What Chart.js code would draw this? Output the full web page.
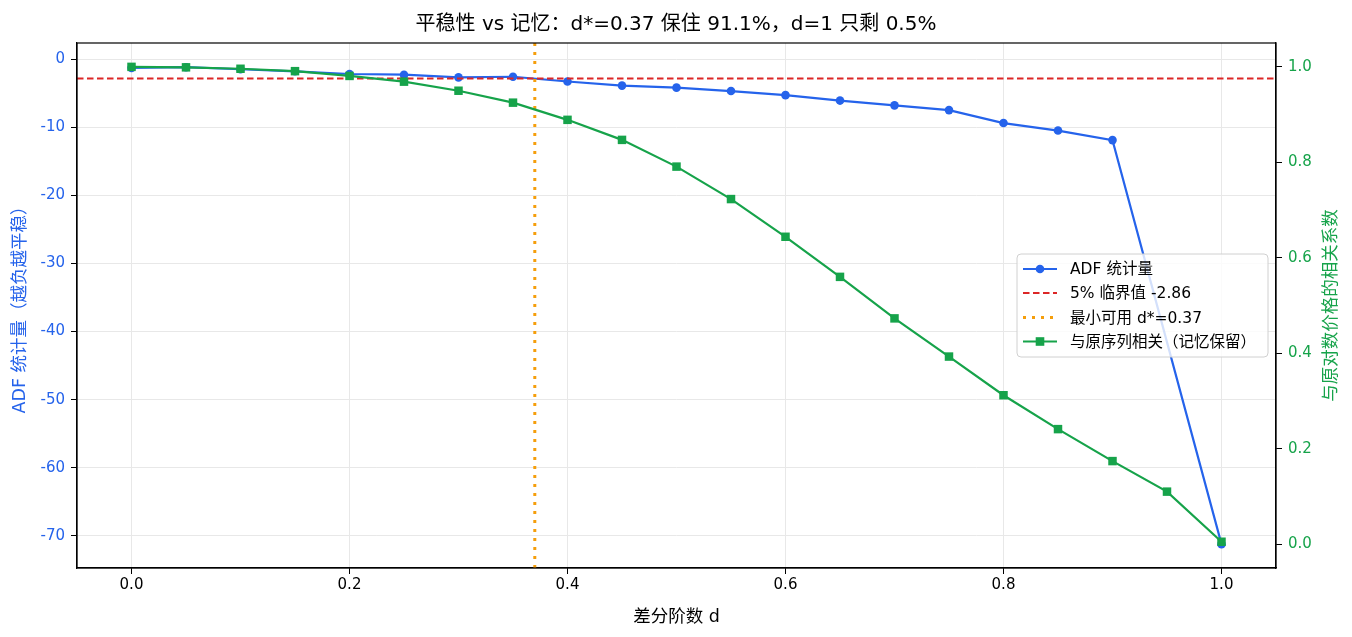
<!DOCTYPE html>
<html>
<head>
<meta charset="utf-8">
<script src="https://cdn.jsdelivr.net/npm/chart.js@4.4.1/dist/chart.umd.min.js"></script>
<style>
  html, body { margin: 0; padding: 0; background: #fff; }
  #wrap { width: 1352px; height: 637px; }
</style>
</head>
<body>
<div id="wrap"><canvas id="chart" width="1352" height="637"></canvas></div>
<script>
// Data
const dValues = [0, 0.05, 0.1, 0.15, 0.2, 0.25, 0.3, 0.35, 0.4, 0.45, 0.5, 0.55, 0.6, 0.65, 0.7, 0.75, 0.8, 0.85, 0.9, 0.95, 1.0];
const adfValues = [-1.3, -1.2, -1.5, -1.8, -2.2, -2.3, -2.7, -2.6, -3.3, -3.9, -4.2, -4.7, -5.3, -6.1, -6.8, -7.5, -9.4, -10.5, -11.9, null, -71.2];
const corrValues = [1.000, 0.999, 0.996, 0.991, 0.981, 0.969, 0.950, 0.925, 0.889, 0.847, 0.791, 0.723, 0.644, 0.560, 0.473, 0.393, 0.312, 0.241, 0.174, 0.110, 0.005];
const critValue = -2.86;
const dStar = 0.37;
const xTicks = [0, 0.2, 0.4, 0.6, 0.8, 1.0];
const adfTicks = [0, -10, -20, -30, -40, -50, -60, -70];
const corrTicks = [0, 0.2, 0.4, 0.6, 0.8, 1.0];
const xRange = [-0.05, 1.05];
const adfRange = [-74.7, 2.35];
const corrRange = [-0.05, 1.05];

const BLUE = '#2563eb';
const GREEN = '#16a34a';
const RED = '#dc2626';
const ORANGE = '#f59e0b';
const FONT = "'DejaVu Sans', 'Noto Sans CJK SC', sans-serif";

const legendItems = [
  { label: 'ADF 统计量', color: BLUE, dash: [], width: 2.2, marker: 'circle' },
  { label: '5% 临界值 -2.86', color: RED, dash: [6.5, 3.5], width: 2, marker: null },
  { label: '最小可用 d*=0.37', color: ORANGE, dash: [3, 6], width: 3, marker: null },
  { label: '与原序列相关（记忆保留）', color: GREEN, dash: [], width: 2.2, marker: 'rect' }
];

const ticksFrom = arr => scale => { scale.ticks = arr.map(v => ({ value: v })); };

// frame, right axis title and legend drawn on top like matplotlib does
const extras = {
  id: 'extras',
  afterDraw(chart) {
    const ctx = chart.ctx;
    const a = chart.chartArea;
    ctx.save();
    ctx.strokeStyle = '#000';
    ctx.lineWidth = 1.2;
    ctx.strokeRect(a.left, a.top, a.right - a.left, a.bottom - a.top);

    // right axis title, reading bottom to top
    ctx.save();
    ctx.translate(1331, (a.top + a.bottom) / 2);
    ctx.rotate(-Math.PI / 2);
    ctx.fillStyle = GREEN;
    ctx.font = '17.5px ' + FONT;
    ctx.textAlign = 'center';
    ctx.textBaseline = 'middle';
    ctx.fillText('与原对数价格的相关系数', 0, 0);
    ctx.restore();

    // legend
    const bx = 1017, by = 254, bw = 251, bh = 103;
    ctx.beginPath();
    ctx.roundRect(bx, by, bw, bh, 4);
    ctx.fillStyle = 'rgba(255,255,255,0.8)';
    ctx.fill();
    ctx.strokeStyle = '#d0d0d0';
    ctx.lineWidth = 1;
    ctx.stroke();
    const rows = [269, 293, 317.5, 341.5];
    legendItems.forEach((it, i) => {
      const y = rows[i];
      ctx.beginPath();
      ctx.setLineDash(it.dash);
      ctx.strokeStyle = it.color;
      ctx.lineWidth = it.width;
      ctx.moveTo(1023, y);
      ctx.lineTo(1057, y);
      ctx.stroke();
      ctx.setLineDash([]);
      ctx.fillStyle = it.color;
      if (it.marker === 'circle') {
        ctx.beginPath();
        ctx.arc(1040, y, 4.3, 0, Math.PI * 2);
        ctx.fill();
      } else if (it.marker === 'rect') {
        ctx.fillRect(1040 - 4.3, y - 4.3, 8.6, 8.6);
      }
      ctx.fillStyle = '#000';
      ctx.font = '15.5px ' + FONT;
      ctx.textAlign = 'left';
      ctx.textBaseline = 'middle';
      ctx.fillText(it.label, 1070, y + 1);
    });
    ctx.restore();
  }
};

new Chart(document.getElementById('chart'), {
  type: 'line',
  data: {
    datasets: [
      {
        label: '与原序列相关（记忆保留）',
        data: dValues.map((d, i) => ({ x: d, y: corrValues[i] })),
        yAxisID: 'y2',
        borderColor: GREEN,
        backgroundColor: GREEN,
        borderWidth: 2.2,
        pointStyle: 'rect',
        pointRadius: 6,
        pointBorderWidth: 0,
        order: 0
      },
      {
        label: '最小可用 d*=0.37',
        data: [{ x: dStar, y: adfRange[0] }, { x: dStar, y: adfRange[1] }],
        yAxisID: 'y',
        borderColor: ORANGE,
        borderWidth: 3,
        borderDash: [3, 6],
        pointRadius: 0,
        order: 1
      },
      {
        label: '5% 临界值 -2.86',
        data: [{ x: xRange[0], y: critValue }, { x: xRange[1], y: critValue }],
        yAxisID: 'y',
        borderColor: RED,
        borderWidth: 2,
        borderDash: [6.5, 3.5],
        pointRadius: 0,
        order: 2
      },
      {
        label: 'ADF 统计量',
        data: dValues.map((d, i) => ({ x: d, y: adfValues[i] })),
        yAxisID: 'y',
        borderColor: BLUE,
        backgroundColor: BLUE,
        borderWidth: 2.2,
        pointStyle: 'circle',
        pointRadius: 4.3,
        pointBorderWidth: 0,
        spanGaps: true,
        order: 3
      }
    ]
  },
  options: {
    responsive: false,
    animation: false,
    devicePixelRatio: 1,
    layout: { padding: 0 },
    plugins: {
      legend: { display: false },
      tooltip: { enabled: false },
      title: {
        display: true,
        text: '平稳性 vs 记忆：d*=0.37 保住 91.1%，d=1 只剩 0.5%',
        color: '#000',
        font: { family: FONT, size: 20, weight: 'normal' },
        padding: { top: 13, bottom: 6 }
      }
    },
    scales: {
      x: {
        type: 'linear',
        position: 'bottom',
        min: xRange[0],
        max: xRange[1],
        afterBuildTicks: ticksFrom(xTicks),
        afterFit: s => { s.height = 69; },
        ticks: {
          color: '#000',
          font: { family: FONT, size: 15 },
          padding: 2,
          maxRotation: 0,
          callback: v => v.toFixed(1)
        },
        grid: { color: '#e8e8e8', tickColor: '#000', tickLength: 6, lineWidth: 1 },
        border: { display: true, color: '#000', width: 1.2 },
        title: {
          display: true,
          text: '差分阶数 d',
          color: '#000',
          font: { family: FONT, size: 17.5 },
          padding: { top: 9.5, bottom: 9.5 }
        }
      },
      y: {
        type: 'linear',
        position: 'left',
        min: adfRange[0],
        max: adfRange[1],
        afterBuildTicks: ticksFrom(adfTicks),
        afterFit: s => { s.width = 77; },
        ticks: {
          color: BLUE,
          font: { family: FONT, size: 15 },
          padding: 6,
          callback: v => String(v)
        },
        grid: { color: '#e8e8e8', tickColor: '#000', tickLength: 6, lineWidth: 1 },
        border: { display: true, color: '#000', width: 1.2 },
        title: {
          display: true,
          text: 'ADF 统计量（越负越平稳）',
          color: BLUE,
          font: { family: FONT, size: 17.5 },
          padding: { top: 9.5, bottom: 9.5 }
        }
      },
      y2: {
        type: 'linear',
        position: 'right',
        min: corrRange[0],
        max: corrRange[1],
        afterBuildTicks: ticksFrom(corrTicks),
        afterFit: s => { s.width = 76; },
        ticks: {
          color: GREEN,
          font: { family: FONT, size: 15 },
          padding: 6,
          callback: v => v.toFixed(1)
        },
        grid: { drawOnChartArea: false, tickColor: '#000', tickLength: 6 },
        border: { display: true, color: '#000', width: 1.2 }
      }
    }
  },
  plugins: [extras]
});
</script>
</body>
</html>
